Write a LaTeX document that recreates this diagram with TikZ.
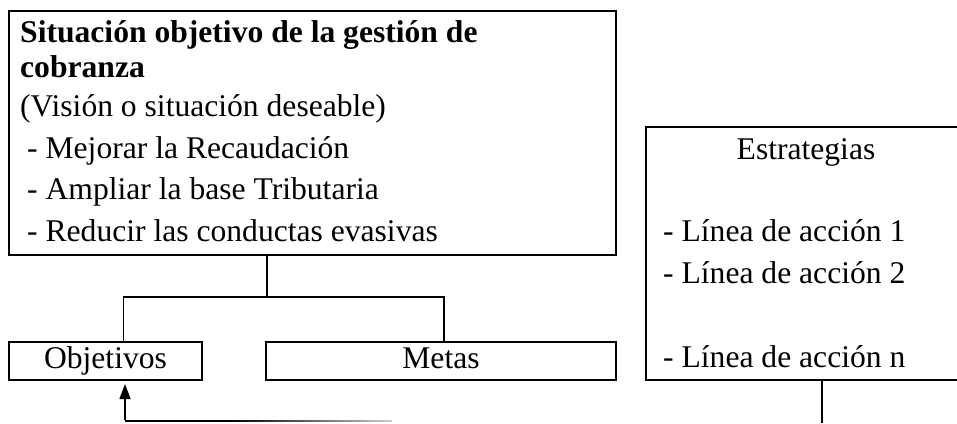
\documentclass[tikz,border=0pt]{standalone}
\usepackage{fontspec}
\setmainfont{Liberation Serif}
\usetikzlibrary{arrows.meta}

\begin{document}
\begin{tikzpicture}[x=1pt, y=-1pt,
  every node/.style = {font=\fontsize{31.6}{42}\selectfont},
  box/.style = {draw, line width=2.2pt, inner sep=0pt, outer sep=0pt, anchor=north west},
  label/.style = {text height=21pt, text depth=7pt},
  txt/.style = {inner sep=0pt, anchor=base west},
  link/.style = {line width=1.4pt}]
 \useasboundingbox (0,0) rectangle (957,423);
 \clip (0,0) rectangle (957,423);
 % boxes
 \node[box, minimum width=607pt, minimum height=244pt] (vision) at (9,11) {};
 \node[box, label, minimum width=193pt, minimum height=38pt] (obj) at (9,342) {Objetivos};
 \node[box, label, minimum width=350pt, minimum height=38pt] (metas) at (266,342) {Metas};
 \node[box, minimum width=320pt, minimum height=253pt] (estr) at (646,127) {};
 % texts
 \node[txt, font=\fontsize{31.6}{42}\selectfont\bfseries] (tit1) at (20,42) {Situación objetivo de la gestión de};
 \node[txt, font=\fontsize{31.6}{42}\selectfont\bfseries] (tit2) at (20,77) {cobranza};
 \node[txt] (vis) at (20,116) {(Visión o situación deseable)};
 \node[txt] (m1) at (27,158) {- Mejorar la Recaudación};
 \node[txt] (m2) at (27,199) {- Ampliar la base Tributaria};
 \node[txt] (m3) at (27,241) {- Reducir las conductas evasivas};
 \node[inner sep=0pt, anchor=base] (etit) at (806,159) {Estrategias};
 \node[txt] (l1) at (663,241) {- Línea de acción 1};
 \node[txt] (l2) at (663,283) {- Línea de acción 2};
 \node[txt] (ln) at (663,367) {- Línea de acción n};
 % connectors
 \coordinate (fork) at (267,297);
 \coordinate (bend) at (125,421);
 \coordinate (fadeon) at (230,421);
 \coordinate (fadeend) at (392,421);
 \coordinate (estrend) at (822,423);
 \draw[link] (vision.south -| fork) -- (fork);
 \draw[link] ([xshift=18pt]obj.north) |- (fork) -| ([xshift=3pt]metas.north);
 \draw[link, -{Triangle[length=15pt, width=11pt]}, shorten >=4pt] ([yshift=0.7pt]bend) -- (bend |- obj.south);
 \draw[link] (bend) -- (fadeon);
 \shade[left color=black, right color=black!20] ([yshift=0.7pt]fadeon) rectangle ([yshift=-0.7pt]fadeend);
 \draw[link] (estrend |- estr.south) -- (estrend);
\end{tikzpicture}
\end{document}
